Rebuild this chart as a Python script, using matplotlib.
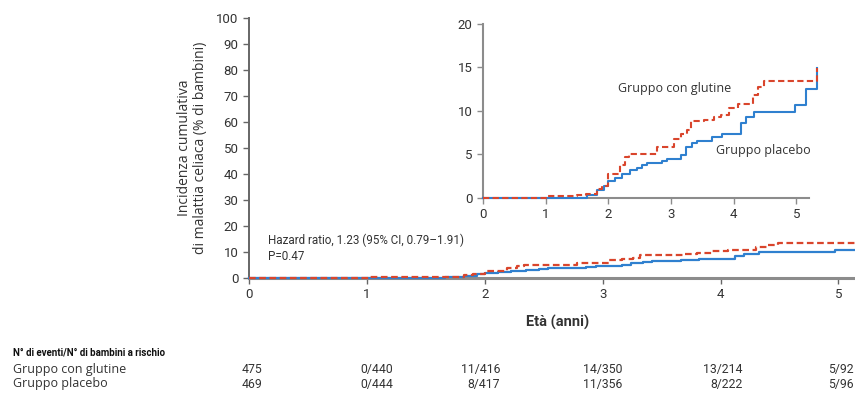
import matplotlib.pyplot as plt

# Kaplan-Meier style cumulative incidence (% children)
glut_t = [0, 1.02, 1.5, 1.65, 1.82, 1.9, 2.0, 2.19, 2.27, 2.33, 2.78, 3.05, 3.16,
          3.26, 3.32, 3.53, 3.69, 3.8, 3.93, 4.06, 4.3, 4.39, 4.49, 5.29, 5.32]
glut_y = [0, 0.2, 0.4, 0.5, 1.0, 1.4, 2.8, 3.8, 4.7, 5.0, 5.9, 6.8, 7.4,
          7.8, 8.8, 9.0, 9.3, 9.5, 10.3, 10.8, 11.8, 12.8, 13.5, 13.5, 14.9]
plac_t = [0, 1.66, 1.82, 1.93, 2.0, 2.11, 2.22, 2.35, 2.46, 2.54, 2.62, 2.86, 2.94,
          3.16, 3.24, 3.34, 3.42, 3.66, 3.82, 4.12, 4.2, 4.33, 4.97, 5.16, 5.32]
plac_y = [0, 0.4, 0.9, 1.4, 1.9, 2.3, 2.8, 3.2, 3.4, 3.8, 4.0, 4.2, 4.5,
          4.9, 5.9, 6.3, 6.6, 7.0, 7.4, 8.6, 9.3, 9.9, 10.7, 12.5, 14.9]

years = [0, 1, 2, 3, 4, 5]
risk_glut = ["475", "0/440", "11/416", "14/350", "13/214", "5/92"]
risk_plac = ["469", "0/444", "8/417", "11/356", "8/222", "5/96"]
risk_x = [0.11, 1.22, 2.13, 3.17, 4.19, 5.13]  # right edge of each column

RED = "#d9452c"
BLUE = "#2f80cf"
GREY = "#8c8c8c"
TXT = "#333333"
NUM_FONT = ["Roboto", "DejaVu Sans"]
LAB_FONT = ["Open Sans", "DejaVu Sans"]

plt.rcParams["font.family"] = LAB_FONT

fig = plt.figure(figsize=(8.55, 3.94), dpi=100)

# main axes
ax = fig.add_axes([0.2912, 0.2944, 0.7088, 0.6599])
ax.step(plac_t, plac_y, where="post", color=BLUE, lw=1.6, clip_on=False, zorder=3)
ax.step(glut_t, glut_y, where="post", color=RED, lw=1.6, ls=(0, (3, 1.6)),
        clip_on=False, zorder=4)
ax.set_xlim(0, 5.14)
ax.set_ylim(0, 100)
ax.set_xticks(years)
ax.set_yticks(range(0, 101, 10))
for s in ["top", "right"]:
    ax.spines[s].set_visible(False)
ax.spines["left"].set_color("#666666")
ax.spines["left"].set_linewidth(1.4)
ax.spines["bottom"].set_color(GREY)
ax.spines["bottom"].set_linewidth(2.2)
ax.tick_params(direction="out", length=4, width=1, colors="#666666", labelcolor=TXT)
for lab in ax.get_xticklabels() + ax.get_yticklabels():
    lab.set_fontfamily(NUM_FONT)
    lab.set_fontsize(9.5)
ax.set_ylabel("Incidenza cumulativa\ndi malattia celiaca (% di bambini)",
              fontsize=10, color=TXT, labelpad=6, linespacing=1.1)
ax.text(0.16, 14.6, "Hazard ratio, 1.23 (95% CI, 0.79\u20131.91)", fontsize=8.4,
        color=TXT, va="center", family=NUM_FONT)
ax.text(0.16, 8.1, "P=0.47", fontsize=8.4, color=TXT, va="center", family=NUM_FONT)
ax.text(2.62, -17, "Et\u00e0 (anni)", fontsize=10.5, fontweight="bold", color=TXT,
        ha="center", va="center", family=NUM_FONT)

# inset
ins = fig.add_axes([0.5649, 0.4975, 0.3813, 0.4416])
ins.step(plac_t, plac_y, where="post", color=BLUE, lw=1.5, clip_on=False, zorder=3)
ins.step(glut_t, glut_y, where="post", color=RED, lw=1.5, ls=(0, (3, 1.6)),
         clip_on=False, zorder=4)
ins.set_xlim(0, 5.2)
ins.set_ylim(0, 20)
ins.set_xticks(years)
ins.set_yticks([0, 5, 10, 15, 20])
for s in ["top", "right"]:
    ins.spines[s].set_visible(False)
for s in ["left", "bottom"]:
    ins.spines[s].set_color(GREY)
    ins.spines[s].set_linewidth(1.5)
ins.tick_params(direction="out", length=4, width=1, colors=GREY, labelcolor=TXT)
for lab in ins.get_xticklabels() + ins.get_yticklabels():
    lab.set_fontfamily(NUM_FONT)
    lab.set_fontsize(9.5)
ins.text(2.16, 12.6, "Gruppo con glutine", fontsize=9, color=TXT, va="center")
ins.text(3.71, 5.5, "Gruppo placebo", fontsize=9, color=TXT, va="center")

# number-at-risk table
fig.text(13 / 855, 1 - 352 / 394, "N\u00b0 di eventi/N\u00b0 di bambini a rischio",
         fontsize=7, fontweight="bold", color="#111111", va="center", family=NUM_FONT)
fig.text(13 / 855, 1 - 369 / 394, "Gruppo con glutine", fontsize=9, color=TXT, va="center")
fig.text(13 / 855, 1 - 384 / 394, "Gruppo placebo", fontsize=9, color=TXT, va="center")
tr = ax.get_xaxis_transform()
for x, g, p in zip(risk_x, risk_glut, risk_plac):
    ax.text(x, -(369 - 278) / 260, g, transform=tr, ha="right", va="center",
            fontsize=8.8, color=TXT, family=NUM_FONT, clip_on=False)
    ax.text(x, -(384 - 278) / 260, p, transform=tr, ha="right", va="center",
            fontsize=8.8, color=TXT, family=NUM_FONT, clip_on=False)

fig.savefig("out.png", dpi=100)
